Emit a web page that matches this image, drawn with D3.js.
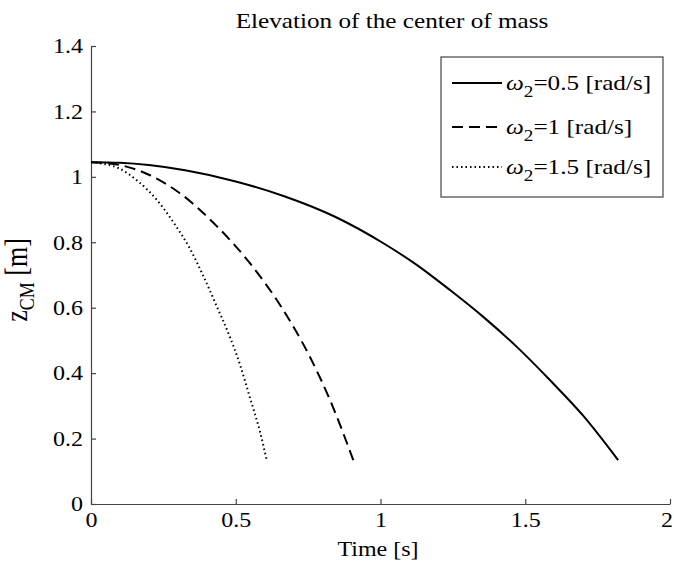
<!DOCTYPE html>
<html>
<head>
<meta charset="utf-8">
<script src="https://cdn.jsdelivr.net/npm/d3@7"></script>
<style>
  body { margin: 0; background: #fff; }
</style>
</head>
<body>
<div id="canvas"></div>
<script>
// time [s] and elevation [m]
const tSlow = [0, 0.1, 0.2, 0.325, 0.5, 0.67, 0.843, 1.01, 1.125, 1.24, 1.355, 1.47, 1.585, 1.7, 1.821];
const zSlow = [1.045, 1.043, 1.036, 1.020, 0.986, 0.94, 0.878, 0.797, 0.731, 0.654, 0.572, 0.481, 0.379, 0.270, 0.134];

const tMid = [0, 0.1, 0.204, 0.307, 0.436, 0.549, 0.664, 0.756, 0.826, 0.906];
const zMid = [1.045, 1.036, 1.005, 0.950, 0.848, 0.736, 0.593, 0.450, 0.317, 0.134];

const tFast = [0, 0.094, 0.163, 0.227, 0.284, 0.342, 0.388, 0.434, 0.480, 0.515, 0.549, 0.584, 0.607];
const zFast = [1.045, 1.027, 0.986, 0.930, 0.862, 0.780, 0.697, 0.605, 0.510, 0.425, 0.325, 0.220, 0.134];

const omegaLabels = ["0.5", "1", "1.5"];
const xTicks = [0, 0.5, 1, 1.5, 2];
const yTicks = [0, 0.2, 0.4, 0.6, 0.8, 1, 1.2, 1.4];

const width = 674, height = 562;
const margin = { top: 46, right: 4, bottom: 58, left: 91 };
const FONT = '"Liberation Serif", "Times New Roman", serif';
const STRETCH = 1.2; // the picture's lettering is wider than plain Times

const svg = d3.select("#canvas")
  .append("svg")
  .attr("width", width)
  .attr("height", height);

const x = d3.scaleLinear().domain([0, 2]).range([margin.left, width - margin.right]);
const y = d3.scaleLinear().domain([0, 1.4]).range([height - margin.bottom, margin.top]);

// axes, ticks pointing inward like matlab
const xAxis = svg.append("g")
  .attr("transform", "translate(0," + y(0) + ")")
  .call(d3.axisBottom(x).tickValues(xTicks).tickSizeInner(-5).tickSizeOuter(0)
    .tickPadding(9).tickFormat(d3.format("~g")));

const yAxis = svg.append("g")
  .attr("transform", "translate(" + x(0) + ",0)")
  .call(d3.axisLeft(y).tickValues(yTicks).tickSizeInner(-5).tickSizeOuter(0)
    .tickFormat(d3.format("~g")));

svg.selectAll(".domain, .tick line").attr("stroke", "#444").attr("stroke-width", 1.2);
svg.selectAll(".tick text").style("font-size", "20px").attr("fill", "#000")
  .attr("transform", "scale(" + STRETCH + ",1)");
yAxis.selectAll(".tick text").attr("x", -8 / STRETCH).attr("dy", "0.34em");
xAxis.selectAll(".tick text").attr("dy", "0.72em");
// last label sits at the right edge, nudge it in so it is not clipped
xAxis.selectAll(".tick text").filter(d => d === 2).attr("x", -3);

// curves
const series = [
  { t: tSlow, z: zSlow, dash: null },
  { t: tMid, z: zMid, dash: "11,6" },
  { t: tFast, z: zFast, dash: "1.5,3" }
];

const line = d3.line()
  .x(d => x(d[0]))
  .y(d => y(d[1]))
  .curve(d3.curveMonotoneX);

series.forEach(function (s) {
  svg.append("path")
    .datum(s.t.map((t, i) => [t, s.z[i]]))
    .attr("fill", "none")
    .attr("stroke", "#000")
    .attr("stroke-width", 2)
    .attr("stroke-dasharray", s.dash)
    .attr("d", line);
});

// stretched label helper
function label(px, py, size, anchor) {
  return svg.append("g")
    .attr("transform", "translate(" + px + "," + py + ") scale(" + STRETCH + ",1)")
    .append("text")
    .attr("text-anchor", anchor)
    .style("font-size", size + "px");
}

label(392, 28, 21, "middle").text("Elevation of the center of mass");
label(378, 556, 20, "middle").text("Time [s]");

const ylab = svg.append("text")
  .attr("transform", "translate(27,280) rotate(-90) scale(1," + STRETCH + ")")
  .attr("text-anchor", "middle")
  .style("font-size", "26px");
ylab.append("tspan").text("z");
ylab.append("tspan").attr("dy", 6).style("font-size", "18px").text("CM");
ylab.append("tspan").attr("dy", -6).text(" [m]");

// legend
const legend = svg.append("g");
legend.append("rect")
  .attr("x", 441).attr("y", 57)
  .attr("width", 222).attr("height", 140)
  .attr("fill", "#fff")
  .attr("stroke", "#444")
  .attr("stroke-width", 1.2);

const rowY = [83, 127, 167];
series.forEach(function (s, i) {
  legend.append("line")
    .attr("x1", 452).attr("x2", 502)
    .attr("y1", rowY[i]).attr("y2", rowY[i])
    .attr("stroke", "#000")
    .attr("stroke-width", 2)
    .attr("stroke-dasharray", s.dash);
  const txt = legend.append("g")
    .attr("transform", "translate(506," + (rowY[i] + 7) + ") scale(" + STRETCH + ",1)")
    .append("text")
    .style("font-size", "21px");
  txt.append("tspan").style("font-style", "italic").text("ω");
  txt.append("tspan").attr("dy", 7).style("font-size", "16px").text("2");
  txt.append("tspan").attr("dy", -7).text("=" + omegaLabels[i] + " [rad/s]");
});

svg.selectAll("text").style("font-family", FONT).attr("font-family", null);
</script>
</body>
</html>
